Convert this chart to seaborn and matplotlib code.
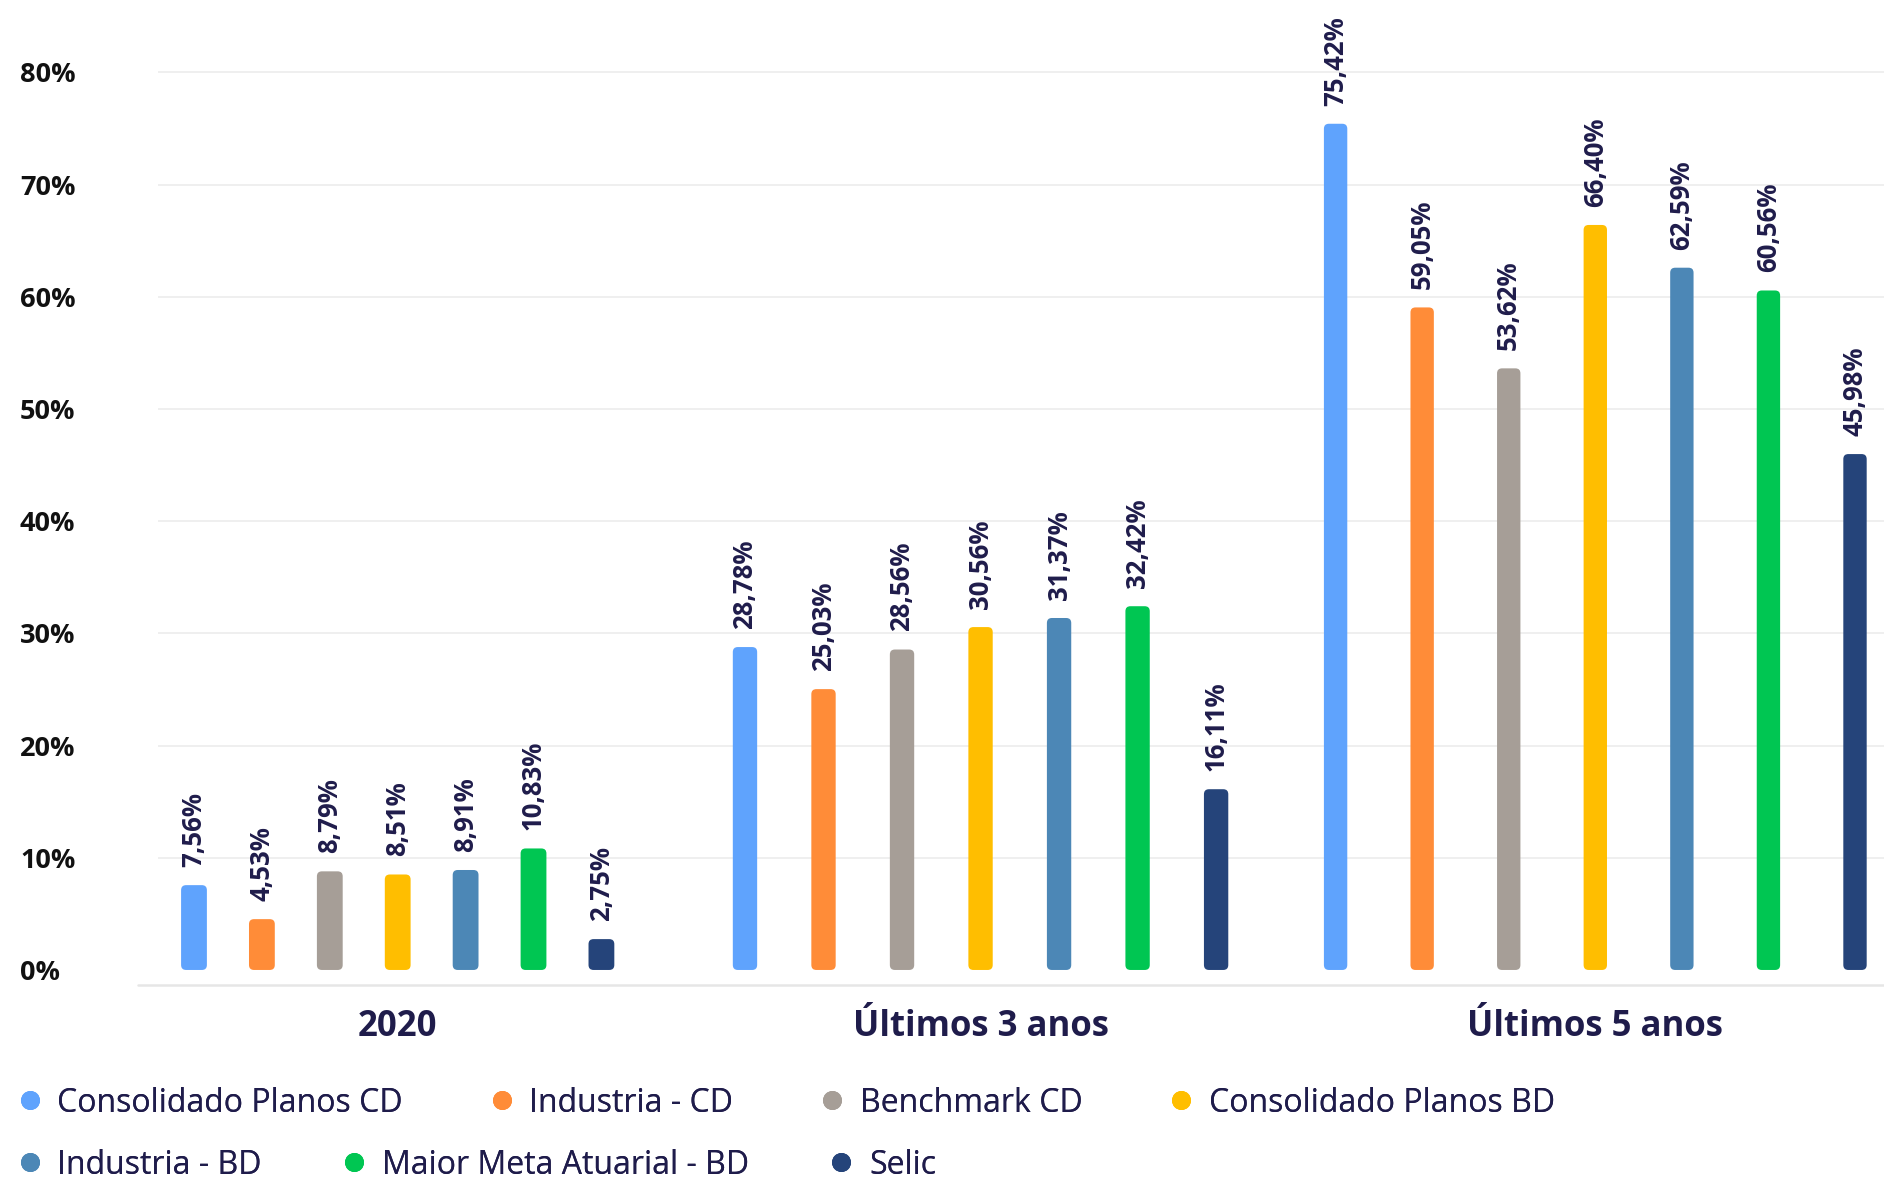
import matplotlib.pyplot as plt
import matplotlib.transforms as mtransforms
import pandas as pd
import seaborn as sns
from matplotlib.lines import Line2D
from matplotlib.patches import FancyBboxPatch

groups = ["2020", "Últimos 3 anos", "Últimos 5 anos"]
series = [
    "Consolidado Planos CD",
    "Industria - CD",
    "Benchmark CD",
    "Consolidado Planos BD",
    "Industria - BD",
    "Maior Meta Atuarial - BD",
    "Selic",
]
values_2020 = [7.56, 4.53, 8.79, 8.51, 8.91, 10.83, 2.75]
values_3_anos = [28.78, 25.03, 28.56, 30.56, 31.37, 32.42, 16.11]
values_5_anos = [75.42, 59.05, 53.62, 66.40, 62.59, 60.56, 45.98]
colors = ["#5fa3fd", "#ff8c38", "#a69e97", "#ffbe00", "#4c87b6", "#00c652", "#25447a"]
y_ticks = [0, 10, 20, 30, 40, 50, 60, 70, 80]

W, H = 1884, 1180
TEXT = "#1f1c4b"

sns.set_style("white")
plt.rcParams["font.family"] = ["Open Sans", "DejaVu Sans"]

fig = plt.figure(figsize=(W / 100, H / 100), dpi=100)

# groups have different bar spacing, so each one gets its own axes
# (left px, right px, xlim, bar width)
layout = [
    (158, 670, (-0.53, 7.01), 0.38),
    (670, 1275, (-0.955, 6.75), 0.31),
    (1275, 1884, (-0.70, 6.335), 0.27),
]
all_values = [values_2020, values_3_anos, values_5_anos]
base_px = 985
ylim = (-1.34, 86.45)


def pct(v):
    return f"{v:.2f}".replace(".", ",") + "%"


def round_bars(ax, radius_px):
    x0, x1 = ax.get_xlim()
    y0, y1 = ax.get_ylim()
    bb = ax.get_window_extent()
    rx = radius_px * (x1 - x0) / bb.width
    ry = radius_px * (y1 - y0) / bb.height
    for p in list(ax.patches):
        fb = FancyBboxPatch(
            (p.get_x(), p.get_y()), p.get_width(), p.get_height(),
            boxstyle=f"round,pad=0,rounding_size={rx}",
            mutation_aspect=ry / rx,
            facecolor=p.get_facecolor(), edgecolor="none", zorder=p.get_zorder(),
        )
        ax.add_patch(fb)
        p.remove()


axes = []
for i, (grp, vals, (l, r, xlim, bw)) in enumerate(zip(groups, all_values, layout)):
    ax = fig.add_axes([l / W, 1 - base_px / H, (r - l) / W, base_px / H],
                      sharey=axes[0] if axes else None)
    axes.append(ax)
    df = pd.DataFrame({"serie": series, "valor": vals})
    sns.barplot(data=df, x="serie", y="valor", hue="serie", palette=colors,
                width=bw, errorbar=None, legend=False, saturation=1, ax=ax)
    ax.set_xlim(*xlim)
    ax.set_ylim(*ylim)
    ax.set_yticks(y_ticks)
    ax.set_xticks([])
    ax.set_xlabel("")
    ax.set_ylabel("")
    sns.despine(ax=ax, left=True, bottom=True)
    ax.grid(axis="y", color="#ebebeb", linewidth=1.1)
    ax.set_axisbelow(True)
    ax.get_ygridlines()[0].set_visible(False)

    for c in ax.containers:
        ax.bar_label(c, fmt=pct, rotation=90, padding=13, fontsize=18.5,
                     fontweight="bold", color=TEXT)

    trans = mtransforms.blended_transform_factory(ax.transData, ax.transAxes)
    ax.text(3, -(1027 - base_px) / base_px, grp, transform=trans, ha="center",
            va="center", fontsize=25, fontweight="bold", color=TEXT)

    if i == 0:
        ax.tick_params(axis="y", length=0, pad=99.4, labelsize=19.5, labelcolor="#111111")
        ax.set_yticklabels([f"{t}%" for t in y_ticks])
        for lab in ax.get_yticklabels():
            lab.set_horizontalalignment("left")
            lab.set_fontweight("bold")
    else:
        ax.tick_params(axis="y", length=0, labelleft=False)

    round_bars(ax, 5)

fig.add_artist(Line2D([138 / W, 1], [1 - base_px / H] * 2, transform=fig.transFigure,
                      color="#e6e6e6", linewidth=1.8))

handles = [Line2D([], [], marker="o", linestyle="", markersize=13.7,
                  markerfacecolor=c, markeredgecolor="none") for c in colors]
rows = [(slice(0, 4), 1103, 2.8), (slice(4, 7), 1165, 2.6)]
for sl, ypx, cs in rows:
    leg = fig.legend(handles[sl], series[sl], loc="center left",
                     bbox_to_anchor=(20 / W, 1 - ypx / H), ncol=len(series[sl]),
                     frameon=False, fontsize=23, handlelength=0.6, handletextpad=0.56,
                     columnspacing=cs, borderpad=0, borderaxespad=0)
    for t in leg.get_texts():
        t.set_color(TEXT)
    fig.add_artist(leg)

fig.savefig("out.png", dpi=100)
